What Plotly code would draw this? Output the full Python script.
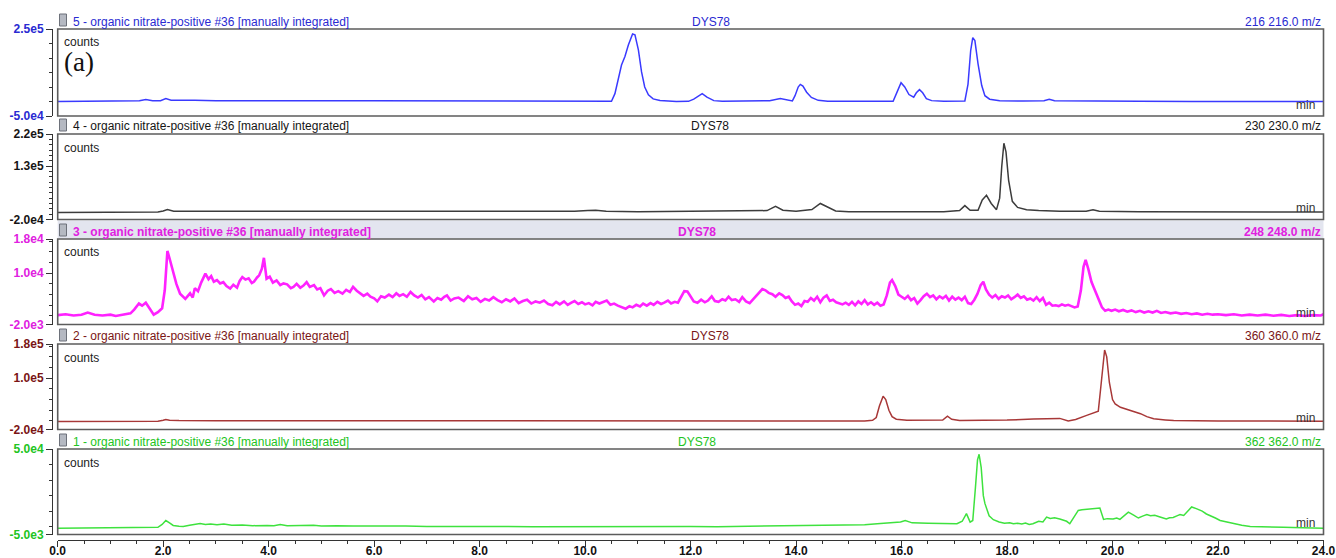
import plotly.graph_objects as go

# ---------------- retention-time axis ----------------
rt_ticks = [0.0, 2.0, 4.0, 6.0, 8.0, 10.0, 12.0, 14.0, 16.0, 18.0, 20.0, 22.0, 24.0]
rt_labels = ["0.0", "2.0", "4.0", "6.0", "8.0", "10.0", "12.0", "14.0",
             "16.0", "18.0", "20.0", "22.0", "24.0"]

# ---------------- extracted ion chromatograms: (time [min], counts) ----------------
eic_216 = [
    (0.0, 0), (0.5, 300), (1.0, 0), (1.4, 500), (1.55, 2500), (1.67, 7000), (1.8, 3000),
    (1.95, 2500), (2.05, 10000), (2.15, 4500), (2.3, 3500), (2.6, 4000), (3.0, 3000),
    (3.5, 3500), (4.0, 2500), (4.3, 3500), (4.6, 2500), (5.0, 3000), (6.0, 2500),
    (7.0, 2000), (8.0, 2000), (9.0, 1500), (10.0, 1500), (10.4, 1000), (10.5, 500),
    (10.565, 27000), (10.63, 73000), (10.69, 126000), (10.755, 155000), (10.82, 195000),
    (10.9, 233000), (10.945, 230000), (11.01, 178000), (11.07, 102000), (11.13, 50000),
    (11.2, 23000), (11.29, 9000), (11.42, 3500), (11.73, 0), (11.96, 500), (12.06, 8000),
    (12.15, 20000), (12.22, 27000), (12.31, 15000), (12.44, 3000), (12.6, 500), (13.0, 1000),
    (13.5, 3000), (13.7, 10000), (13.85, 5000), (13.93, 2000), (13.98, 20000), (14.04, 50000),
    (14.08, 59000), (14.13, 53000), (14.2, 32000), (14.29, 14000), (14.42, 4000), (14.6, 1000),
    (15.2, 1000), (15.84, 1000), (15.92, 35000), (15.99, 65000), (16.06, 50000), (16.14, 24000),
    (16.23, 15000), (16.28, 30000), (16.34, 41000), (16.4, 30000), (16.47, 10000), (16.57, 3000),
    (16.8, 1000), (17.2, 2000), (17.26, 60000), (17.31, 175000), (17.35, 220000),
    (17.39, 210000), (17.45, 130000), (17.52, 55000), (17.58, 20000), (17.67, 8000),
    (17.86, 3000), (18.3, 1500), (18.7, 3000), (18.8, 8000), (18.9, 3000), (19.3, 2000),
    (19.5, 4000), (19.7, 2000), (20.5, 500), (21.5, 0), (22.5, 0), (23.5, 0), (24.0, 0),
]

eic_230 = [
    (0.0, 0), (1.0, 0), (1.9, 1000), (2.0, 4000), (2.08, 8000), (2.2, 3000), (2.5, 3000),
    (3.0, 3500), (3.5, 2500), (4.0, 3000), (5.0, 2500), (6.0, 2000), (7.0, 2000), (8.0, 2000),
    (9.0, 2000), (9.8, 3000), (10.05, 5000), (10.2, 6000), (10.4, 3000), (11.0, 2000),
    (12.0, 3000), (12.5, 4000), (13.0, 3000), (13.45, 5000), (13.61, 17000), (13.75, 6000),
    (14.0, 3000), (14.3, 8000), (14.46, 25000), (14.6, 15000), (14.75, 4000), (15.0, 2000),
    (15.5, 3000), (16.0, 2000), (16.8, 2000), (17.1, 5000), (17.2, 19000), (17.3, 6000),
    (17.45, 6000), (17.53, 35000), (17.61, 48000), (17.7, 25000), (17.8, 7600), (17.86, 40000),
    (17.9, 130000), (17.94, 194000), (17.98, 170000), (18.03, 90000), (18.1, 31000),
    (18.2, 14000), (18.37, 7600), (18.6, 5000), (19.0, 3000), (19.5, 3000), (19.63, 7000),
    (19.75, 3000), (20.5, 2000), (22.0, 1000), (24.0, 1000),
]

eic_248 = [
    (0.0, 200), (0.15, 400), (0.3, 100), (0.45, 300), (0.57, 800), (0.7, 300), (0.85, 100),
    (1.0, 300), (1.1, 0), (1.2, 200), (1.3, 400), (1.38, 600), (1.45, 1500), (1.54, 2900),
    (1.6, 2400), (1.67, 3100), (1.74, 1800), (1.82, 300), (1.9, 900), (1.98, 1800),
    (2.03, 6000), (2.08, 15200), (2.12, 13500), (2.19, 10300), (2.25, 7500), (2.32, 5200),
    (2.42, 4000), (2.51, 5300), (2.56, 4300), (2.6, 6500), (2.66, 5800), (2.72, 7800),
    (2.8, 9900), (2.86, 8600), (2.91, 9300), (2.96, 8000), (3.02, 8400), (3.08, 7600),
    (3.14, 7900), (3.2, 7000), (3.27, 6400), (3.33, 7300), (3.4, 6600), (3.45, 8200),
    (3.5, 9100), (3.56, 8500), (3.62, 8800), (3.68, 7700), (3.72, 8000), (3.78, 9000),
    (3.82, 9500), (3.87, 11000), (3.91, 13600), (3.96, 8700), (4.02, 9200), (4.08, 7800),
    (4.15, 8300), (4.22, 7200), (4.28, 7600), (4.35, 7400), (4.42, 6500), (4.47, 6800),
    (4.53, 7500), (4.6, 6600), (4.66, 7100), (4.72, 7900), (4.78, 6800), (4.86, 7200),
    (4.92, 6200), (4.98, 6500), (5.05, 4800), (5.12, 5900), (5.18, 6300), (5.25, 5400),
    (5.32, 5800), (5.4, 5200), (5.47, 6100), (5.54, 5600), (5.6, 6800), (5.67, 5900),
    (5.74, 5300), (5.8, 4700), (5.87, 5200), (5.93, 4500), (6.0, 4100), (6.06, 3400),
    (6.13, 4600), (6.2, 4300), (6.28, 5000), (6.35, 4400), (6.42, 5300), (6.48, 4700),
    (6.55, 5100), (6.62, 4500), (6.69, 5600), (6.76, 4800), (6.83, 4300), (6.9, 4900),
    (6.97, 3900), (7.04, 4400), (7.13, 3400), (7.2, 4200), (7.27, 3800), (7.33, 4500),
    (7.38, 4800), (7.45, 3600), (7.52, 4100), (7.6, 4300), (7.7, 3500), (7.78, 4600),
    (7.86, 3900), (7.94, 4200), (8.02, 3300), (8.1, 4000), (8.18, 3600), (8.26, 4400),
    (8.34, 3700), (8.42, 3200), (8.5, 3900), (8.58, 3400), (8.66, 4100), (8.74, 3000),
    (8.82, 3500), (8.9, 3800), (8.98, 2900), (9.06, 3400), (9.14, 3100), (9.22, 3600),
    (9.3, 2800), (9.38, 2500), (9.45, 3300), (9.52, 2700), (9.6, 3400), (9.67, 2600),
    (9.74, 3100), (9.8, 3500), (9.87, 2800), (9.94, 3200), (10.0, 2700), (10.07, 3000),
    (10.14, 2500), (10.2, 3300), (10.27, 2900), (10.34, 3200), (10.41, 3600), (10.48, 2600),
    (10.55, 2900), (10.62, 2400), (10.7, 2000), (10.77, 1700), (10.84, 2300), (10.9, 2000),
    (10.97, 2600), (11.04, 2200), (11.1, 2900), (11.17, 2400), (11.24, 3000), (11.3, 2600),
    (11.37, 3300), (11.44, 2800), (11.5, 3100), (11.57, 3600), (11.63, 2900), (11.7, 3300),
    (11.76, 3100), (11.82, 4500), (11.88, 5800), (11.94, 5700), (12.0, 4400), (12.06, 3400),
    (12.13, 3100), (12.2, 3800), (12.27, 3200), (12.33, 3600), (12.4, 4600), (12.46, 3500),
    (12.53, 3300), (12.6, 3900), (12.66, 3600), (12.72, 4500), (12.78, 3700), (12.85, 3900),
    (12.92, 3300), (12.98, 4400), (13.05, 3400), (13.12, 3000), (13.18, 3800), (13.24, 4600),
    (13.3, 5400), (13.36, 6300), (13.42, 6000), (13.48, 5400), (13.55, 5100), (13.61, 4500),
    (13.68, 5300), (13.74, 4900), (13.8, 4200), (13.86, 4500), (13.92, 3400), (13.98, 2600),
    (14.04, 2900), (14.1, 2300), (14.16, 3500), (14.22, 3300), (14.28, 4200), (14.34, 3600),
    (14.4, 4500), (14.46, 3200), (14.52, 4300), (14.58, 4800), (14.64, 3500), (14.7, 3800),
    (14.76, 3200), (14.82, 3000), (14.88, 2700), (14.94, 3100), (15.0, 2600), (15.06, 3300),
    (15.12, 2500), (15.18, 3400), (15.24, 2800), (15.3, 3700), (15.36, 2700), (15.42, 3200),
    (15.48, 2600), (15.54, 3100), (15.6, 2400), (15.66, 2700), (15.72, 4800), (15.78, 7800),
    (15.82, 8400), (15.88, 7000), (15.94, 5000), (16.0, 4500), (16.06, 4000), (16.12, 4700),
    (16.18, 3700), (16.24, 4200), (16.3, 2900), (16.36, 3700), (16.42, 4600), (16.48, 5200),
    (16.54, 4400), (16.6, 4800), (16.66, 3900), (16.72, 4600), (16.78, 4100), (16.84, 4700),
    (16.9, 3600), (16.96, 4500), (17.02, 3800), (17.08, 4300), (17.14, 3700), (17.2, 4500),
    (17.26, 3000), (17.32, 2800), (17.38, 3800), (17.44, 5200), (17.5, 7200), (17.55, 8000),
    (17.6, 6200), (17.66, 5000), (17.72, 4300), (17.78, 4900), (17.84, 4000), (17.9, 4600),
    (17.96, 4300), (18.02, 4800), (18.08, 3900), (18.14, 4400), (18.2, 5000), (18.26, 4200),
    (18.32, 4600), (18.38, 3800), (18.44, 4100), (18.5, 3600), (18.56, 4400), (18.62, 3500),
    (18.68, 4200), (18.74, 2600), (18.8, 3100), (18.86, 2400), (18.92, 2500), (18.98, 2300),
    (19.04, 2700), (19.1, 2400), (19.16, 2600), (19.22, 2300), (19.28, 2000), (19.34, 2200),
    (19.4, 6000), (19.45, 11500), (19.49, 13100), (19.54, 11000), (19.6, 8000), (19.65, 6500),
    (19.7, 5200), (19.75, 3500), (19.8, 2000), (19.86, 1200), (19.92, 1500), (19.98, 1200),
    (20.05, 1500), (20.12, 1100), (20.2, 1400), (20.28, 1000), (20.36, 1300), (20.44, 900),
    (20.52, 1200), (20.6, 800), (20.68, 1100), (20.76, 800), (20.84, 1200), (20.92, 700),
    (21.0, 900), (21.1, 600), (21.2, 800), (21.3, 500), (21.4, 700), (21.5, 400), (21.6, 600),
    (21.7, 300), (21.8, 500), (21.9, 300), (22.0, 400), (22.15, 200), (22.3, 400), (22.45, 100),
    (22.6, 300), (22.75, 100), (22.9, 300), (23.05, 50), (23.2, 250), (23.35, 0), (23.5, 200),
    (23.65, 0), (23.8, 200), (23.95, 100), (24.0, 400),
]

eic_360 = [
    (0.0, -1000), (1.0, -800), (1.9, -500), (2.0, 1500), (2.05, 3500), (2.12, 1500),
    (2.3, 800), (3.0, 600), (4.0, 500), (6.0, 0), (8.0, -300), (10.0, -200), (12.0, 0),
    (14.0, -300), (15.3, 0), (15.45, 1500), (15.52, 8000), (15.58, 35000), (15.65, 58000),
    (15.7, 50000), (15.76, 25000), (15.82, 10000), (15.9, 4000), (16.1, 1500), (16.5, 1000),
    (16.78, 2000), (16.87, 11000), (16.95, 4000), (17.1, 1000), (18.0, 2000), (18.5, 4500),
    (19.0, 6000), (19.16, 0), (19.3, 3500), (19.51, 13000), (19.65, 19000), (19.73, 23000),
    (19.77, 70000), (19.82, 140000), (19.85, 166000), (19.89, 150000), (19.94, 90000),
    (20.0, 50000), (20.05, 40000), (20.15, 32000), (20.25, 28000), (20.34, 23000),
    (20.53, 17000), (20.65, 10000), (20.78, 5000), (21.0, 2500), (21.16, 1000), (22.0, 0),
    (23.0, -200), (24.0, -500),
]

eic_362 = [
    (0.0, -900), (0.5, -800), (1.0, -900), (1.5, -700), (1.7, -600), (1.9, -400), (1.98, 1500),
    (2.05, 4000), (2.12, 2500), (2.19, 800), (2.3, 300), (2.38, 200), (2.5, 1000), (2.6, 1500),
    (2.7, 2000), (2.8, 1500), (2.9, 1800), (3.02, 1300), (3.15, 1700), (3.3, 900), (3.5, 1100),
    (3.7, 700), (3.85, 900), (3.97, 800), (4.1, 600), (4.22, 1500), (4.35, 700), (4.6, 800),
    (4.85, 900), (5.0, 400), (5.3, 700), (5.6, 400), (6.0, 600), (6.3, 300), (6.6, 500),
    (7.0, 200), (7.5, 300), (8.0, 0), (8.5, 200), (9.0, 0), (9.5, 100), (10.0, -100),
    (10.5, 100), (11.0, 0), (11.5, 100), (12.0, 200), (12.5, 0), (13.0, 300), (13.5, 400),
    (14.0, 600), (14.5, 1200), (14.8, 1000), (15.0, 1500), (15.3, 1300), (15.6, 2000),
    (15.8, 2500), (15.98, 3000), (16.07, 4000), (16.2, 2500), (16.5, 2300), (16.8, 2000),
    (17.05, 1900), (17.15, 3500), (17.23, 8400), (17.3, 3000), (17.35, 4000), (17.4, 25000),
    (17.44, 43000), (17.47, 46600), (17.51, 38000), (17.55, 20000), (17.58, 15000),
    (17.66, 7000), (17.74, 4500), (17.85, 3000), (17.95, 2200), (18.05, 2600), (18.12, 1900),
    (18.2, 2300), (18.28, 1800), (18.35, 2400), (18.42, 1500), (18.49, 1900), (18.6, 3500),
    (18.68, 3100), (18.75, 6200), (18.82, 5300), (18.9, 5700), (19.0, 5000), (19.13, 3500),
    (19.19, 1900), (19.27, 6000), (19.35, 10500), (19.42, 10900), (19.5, 11200), (19.57, 11600),
    (19.65, 12000), (19.76, 12000), (19.83, 4700), (19.9, 5200), (20.01, 5000), (20.08, 5600),
    (20.14, 4700), (20.3, 9400), (20.4, 7500), (20.49, 5600), (20.57, 6800), (20.65, 7800),
    (20.72, 7100), (20.8, 7400), (20.9, 6300), (21.02, 5000), (21.08, 5800), (21.15, 6000),
    (21.22, 7000), (21.28, 7800), (21.35, 7200), (21.4, 9000), (21.45, 10500), (21.5, 12700),
    (21.6, 11500), (21.7, 10000), (21.78, 8200), (21.85, 7300), (21.95, 5600), (22.04, 4000),
    (22.15, 3100), (22.3, 2000), (22.45, 900), (22.61, 200), (22.9, -300), (23.24, -400),
    (23.6, -600), (24.0, -900),
]

# ---------------- intensity-axis ticks ----------------
yt_216, yl_216 = [-5.0e4, 2.5e5], ["-5.0e4", "2.5e5"]
yt_230, yl_230 = [-2.0e4, 1.3e5, 2.2e5], ["-2.0e4", "1.3e5", "2.2e5"]
yt_248, yl_248 = [-2.0e3, 1.0e4, 1.8e4], ["-2.0e3", "1.0e4", "1.8e4"]
yt_360, yl_360 = [-2.0e4, 1.0e5, 1.8e5], ["-2.0e4", "1.0e5", "1.8e5"]
yt_362, yl_362 = [-5.0e3, 5.0e4], ["-5.0e3", "5.0e4"]

trace_titles = [
    "5 - organic nitrate-positive #36 [manually integrated]",
    "4 - organic nitrate-positive #36 [manually integrated]",
    "3 - organic nitrate-positive #36 [manually integrated]",
    "2 - organic nitrate-positive #36 [manually integrated]",
    "1 - organic nitrate-positive #36 [manually integrated]",
]
mz_labels = ["216 216.0 m/z", "230 230.0 m/z", "248 248.0 m/z", "360 360.0 m/z", "362 362.0 m/z"]
sample_name = "DYS78"

# ---------------- figure geometry (pixels) ----------------
W, H = 1336, 558
FONT = "Liberation Sans, Arial, sans-serif"
PLOT_L, PLOT_R = 57.7, 1323.5
Y_AXIS_X = 52.0
X_AXIS_Y = 540.0


def px(x):
    return x / W


def py(y):
    return 1 - y / H


panels = [
    dict(points=eic_216, ticks=yt_216, labels=yl_216, yrange=[-5.0e4, 2.5e5], minor=5.0e4, tick0=0,
         top=29, bottom=116, line="#3a3aff", text="#2a2ad2", width=1.5, bold=False, sample_x=711),
    dict(points=eic_230, ticks=yt_230, labels=yl_230, yrange=[-2.0e4, 2.2e5], minor=1.5e4, tick0=-2.0e4,
         top=134, bottom=219.5, line="#3c3c3c", text="#151515", width=1.5, bold=False, sample_x=710),
    dict(points=eic_248, ticks=yt_248, labels=yl_248, yrange=[-2.0e3, 1.8e4], minor=2.5e3, tick0=0,
         top=239, bottom=324.5, line="#ff22ff", text="#e020e0", width=2.6, bold=True, sample_x=697),
    dict(points=eic_360, ticks=yt_360, labels=yl_360, yrange=[-2.0e4, 1.8e5], minor=2.5e4, tick0=0,
         top=344, bottom=429.5, line="#a83838", text="#7a1515", width=1.5, bold=False, sample_x=710),
    dict(points=eic_362, ticks=yt_362, labels=yl_362, yrange=[-5.0e3, 5.0e4], minor=1.0e4, tick0=0,
         top=449, bottom=534.5, line="#3ee23e", text="#22c422", width=1.5, bold=False, sample_x=697),
]

fig = go.Figure()
shapes = []
annotations = []
layout_axes = {}

# highlighted header band of the selected trace (panel 3)
shapes.append(dict(type="rect", xref="paper", yref="paper", x0=px(PLOT_L), x1=px(PLOT_R),
                   y0=py(238.5), y1=py(220.5), fillcolor="#e3e5ef", line=dict(width=0), layer="below"))

for i, p in enumerate(panels):
    yname = "y" if i == 0 else f"y{i + 1}"
    ykey = "yaxis" if i == 0 else f"yaxis{i + 1}"
    t_vals = [pt[0] for pt in p["points"]]
    c_vals = [pt[1] for pt in p["points"]]
    fig.add_trace(go.Scatter(x=t_vals, y=c_vals, mode="lines", xaxis="x", yaxis=yname,
                             line=dict(color=p["line"], width=p["width"]), hoverinfo="skip"))

    layout_axes[ykey] = dict(
        domain=[py(p["bottom"]), py(p["top"])], range=p["yrange"], anchor="free",
        position=px(Y_AXIS_X), showline=True, linecolor="#333", linewidth=1,
        ticks="outside", ticklen=6, tickwidth=1, tickcolor="#333",
        tickvals=p["ticks"], ticktext=p["labels"],
        tickfont=dict(family=FONT, size=12, color=p["text"], weight="bold"),
        minor=dict(ticks="outside", dtick=p["minor"], tick0=p["tick0"], ticklen=3.5,
                   tickcolor="#333", tickwidth=1),
        showgrid=False, zeroline=False, fixedrange=True, automargin=False,
    )

    # panel frame
    shapes.append(dict(type="rect", xref="paper", yref="paper", x0=px(PLOT_L), x1=px(PLOT_R),
                       y0=py(p["bottom"]), y1=py(p["top"]),
                       line=dict(color="#5c5c5c", width=1.6), layer="above"))

    hy = p["top"] - 9
    # small document icon before the trace title
    shapes.append(dict(type="rect", xref="paper", yref="paper", x0=px(59.5), x1=px(66.5),
                       y0=py(hy + 6), y1=py(hy - 6), fillcolor="#b5b9c2",
                       line=dict(color="#6d717a", width=1), layer="above"))

    def wrap(s):
        return f"<b>{s}</b>" if p["bold"] else s

    hfont = dict(family=FONT, size=12, color=p["text"])
    ty = hy + 1.5
    annotations.append(dict(x=px(71), y=py(ty), xref="paper", yref="paper", xanchor="left",
                            yanchor="middle", text=wrap(trace_titles[i]), showarrow=False, font=hfont))
    annotations.append(dict(x=px(p["sample_x"]), y=py(ty), xref="paper", yref="paper", xanchor="center",
                            yanchor="middle", text=wrap(sample_name), showarrow=False, font=hfont))
    annotations.append(dict(x=px(1323), y=py(ty), xref="paper", yref="paper", xanchor="right",
                            yanchor="middle", text=wrap(mz_labels[i]), showarrow=False, font=hfont))
    annotations.append(dict(x=px(62), y=py(p["top"] + 13.5), xref="paper", yref="paper",
                            xanchor="left", yanchor="middle", text="counts", showarrow=False,
                            font=dict(family=FONT, size=12, color="#222")))
    annotations.append(dict(x=px(1317), y=py(p["bottom"] - 11.5), xref="paper", yref="paper",
                            xanchor="right", yanchor="middle", text="min", showarrow=False,
                            font=dict(family=FONT, size=12, color="#333")))

annotations.append(dict(x=px(62), y=py(62), xref="paper", yref="paper", xanchor="left",
                        yanchor="middle", text="(a)", showarrow=False,
                        font=dict(family="Liberation Serif, Times New Roman, serif", size=27, color="#111")))

fig.update_layout(
    width=W, height=H, autosize=False,
    margin=dict(l=0, r=0, t=0, b=0, pad=0, autoexpand=False),
    paper_bgcolor="white", plot_bgcolor="white",
    showlegend=False,
    xaxis=dict(
        domain=[px(PLOT_L), px(PLOT_R)], range=[0, 24], anchor="free", position=py(X_AXIS_Y),
        showline=True, linecolor="#333", linewidth=1,
        ticks="outside", ticklen=6, tickwidth=1, tickcolor="#333",
        tickvals=rt_ticks, ticktext=rt_labels, ticklabelstandoff=-6,
        tickfont=dict(family=FONT, size=12, color="#111", weight="bold"),
        minor=dict(ticks="outside", dtick=0.5, tick0=0, ticklen=3, tickcolor="#333", tickwidth=1),
        showgrid=False, zeroline=False, fixedrange=True, automargin=False,
    ),
    shapes=shapes,
    annotations=annotations,
    **layout_axes,
)

fig.write_html("out.html", post_script="document.body.style.margin = '0';")
